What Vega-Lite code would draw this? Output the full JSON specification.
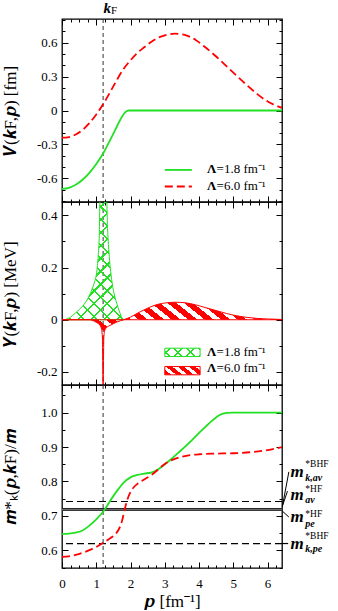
{
"$schema": "https://vega.github.io/schema/vega-lite/v6.json",
"background": "white",
"padding": {"left": 0, "top": 0, "right": 0, "bottom": 0},
"config": {
  "view": {"stroke": "black", "strokeWidth": 1.3},
  "axis": {"grid": false, "domain": false, "labelFlush": false, "tickColor": "black", "tickWidth": 1, "labelFont": "Liberation Serif", "labelFontSize": 13, "labelColor": "black", "titleFont": "Liberation Serif", "titleFontSize": 17, "titleColor": "black", "titleFontWeight": "normal"},
  "text": {"font": "Liberation Serif", "color": "black"}
},
"datasets": {
  "v18": [{"p":0,"v":-0.694},{"p":0.2,"v":-0.684},{"p":0.4,"v":-0.657},{"p":0.6,"v":-0.613},{"p":0.8,"v":-0.552},{"p":1.0,"v":-0.474},{"p":1.2,"v":-0.381},{"p":1.4,"v":-0.264},{"p":1.6,"v":-0.143},{"p":1.75,"v":-0.055},{"p":1.85,"v":-0.014},{"p":1.95,"v":0},{"p":2.1,"v":0},{"p":6.42,"v":0}],
  "v60": [{"p":0,"v":-0.241},{"p":0.2,"v":-0.235},{"p":0.4,"v":-0.213},{"p":0.6,"v":-0.172},{"p":0.8,"v":-0.112},{"p":1.0,"v":-0.035},{"p":1.2,"v":0.055},{"p":1.4,"v":0.16},{"p":1.6,"v":0.27},{"p":1.8,"v":0.37},{"p":2.0,"v":0.445},{"p":2.2,"v":0.51},{"p":2.4,"v":0.56},{"p":2.6,"v":0.607},{"p":2.8,"v":0.643},{"p":3.0,"v":0.665},{"p":3.3,"v":0.68},{"p":3.6,"v":0.667},{"p":3.9,"v":0.625},{"p":4.2,"v":0.555},{"p":4.5,"v":0.478},{"p":4.8,"v":0.392},{"p":5.1,"v":0.307},{"p":5.4,"v":0.223},{"p":5.7,"v":0.145},{"p":6.0,"v":0.08},{"p":6.42,"v":0.024}],
  "y18": [{"p":0.08,"v":0},{"p":0.2,"v":0.006},{"p":0.4,"v":0.027},{"p":0.6,"v":0.052},{"p":0.75,"v":0.08},{"p":0.87,"v":0.115},{"p":0.95,"v":0.145},{"p":1.01,"v":0.18},{"p":1.06,"v":0.25},{"p":1.09,"v":0.33},{"p":1.11,"v":0.47},{"p":1.2,"v":0.47},{"p":1.3,"v":0.47},{"p":1.33,"v":0.35},{"p":1.37,"v":0.26},{"p":1.45,"v":0.153},{"p":1.52,"v":0.1},{"p":1.6,"v":0.062},{"p":1.68,"v":0.03},{"p":1.75,"v":0.008},{"p":1.8,"v":0}],
  "y60": [{"p":0,"v":0},{"p":0.8,"v":0},{"p":0.9,"v":-0.003},{"p":1.0,"v":-0.01},{"p":1.1,"v":-0.02},{"p":1.15,"v":-0.035},{"p":1.18,"v":-0.07},{"p":1.2,"v":-0.27},{"p":1.22,"v":-0.07},{"p":1.25,"v":-0.04},{"p":1.3,"v":-0.03},{"p":1.4,"v":-0.022},{"p":1.5,"v":-0.015},{"p":1.6,"v":-0.009},{"p":1.7,"v":-0.004},{"p":1.8,"v":0},{"p":1.9,"v":0.005},{"p":2.0,"v":0.01},{"p":2.2,"v":0.025},{"p":2.4,"v":0.038},{"p":2.6,"v":0.05},{"p":2.8,"v":0.059},{"p":3.0,"v":0.064},{"p":3.3,"v":0.067},{"p":3.6,"v":0.065},{"p":3.9,"v":0.057},{"p":4.2,"v":0.046},{"p":4.5,"v":0.035},{"p":4.8,"v":0.024},{"p":5.1,"v":0.015},{"p":5.4,"v":0.009},{"p":5.7,"v":0.005},{"p":6.0,"v":0.003},{"p":6.42,"v":0.001}],
  "m18": [{"p":0,"v":0.648},{"p":0.2,"v":0.649},{"p":0.4,"v":0.652},{"p":0.6,"v":0.658},{"p":0.8,"v":0.672},{"p":1.0,"v":0.69},{"p":1.2,"v":0.712},{"p":1.4,"v":0.743},{"p":1.6,"v":0.772},{"p":1.8,"v":0.797},{"p":2.0,"v":0.812},{"p":2.2,"v":0.819},{"p":2.4,"v":0.823},{"p":2.6,"v":0.826},{"p":2.8,"v":0.835},{"p":3.0,"v":0.85},{"p":3.2,"v":0.866},{"p":3.4,"v":0.884},{"p":3.6,"v":0.902},{"p":3.8,"v":0.921},{"p":4.0,"v":0.941},{"p":4.2,"v":0.96},{"p":4.4,"v":0.978},{"p":4.6,"v":0.993},{"p":4.8,"v":0.999},{"p":5.0,"v":1.0},{"p":6.42,"v":1.0}],
  "m60": [{"p":0,"v":0.581},{"p":0.2,"v":0.583},{"p":0.4,"v":0.587},{"p":0.6,"v":0.593},{"p":0.8,"v":0.601},{"p":1.0,"v":0.61},{"p":1.2,"v":0.622},{"p":1.4,"v":0.635},{"p":1.55,"v":0.646},{"p":1.65,"v":0.66},{"p":1.75,"v":0.685},{"p":1.82,"v":0.715},{"p":1.9,"v":0.745},{"p":2.0,"v":0.77},{"p":2.1,"v":0.784},{"p":2.2,"v":0.793},{"p":2.4,"v":0.806},{"p":2.6,"v":0.818},{"p":2.8,"v":0.834},{"p":3.0,"v":0.851},{"p":3.2,"v":0.862},{"p":3.5,"v":0.872},{"p":4.0,"v":0.879},{"p":4.5,"v":0.881},{"p":5.0,"v":0.882},{"p":5.5,"v":0.885},{"p":6.0,"v":0.891},{"p":6.42,"v":0.9}]
},
"spacing": 0,
"bounds": "flush",
"vconcat": [
{
  "width": 220, "height": 183,
  "data": {"values": [{}]},
  "resolve": {"axis": {"x": "independent", "y": "independent"}},
  "layer": [
    {"mark": {"type": "rule", "color": "#333", "strokeDash": [4, 3], "strokeWidth": 1},
     "encoding": {"x": {"datum": 1.2, "axis": null, "scale": {"domain": [0, 6.42], "nice": false, "zero": false}}}},
    {"data": {"name": "v18"}, "mark": {"type": "line", "color": "#22e022", "strokeWidth": 1.8, "interpolate": "monotone", "clip": true},
     "encoding": {"x": {"field": "p", "type": "quantitative", "scale": {"domain": [0, 6.42], "nice": false, "zero": false}, "axis": {"orient": "bottom", "values": [0,1,2,3,4,5,6], "labels": false, "tickSize": -6, "title": null}},
                  "y": {"field": "v", "type": "quantitative", "scale": {"domain": [-0.81, 0.81], "nice": false, "zero": false}, "axis": {"orient": "left", "values": [-0.6,-0.3,0,0.3,0.6], "format": ".1~f", "labelExpr": "replace(datum.label,'−','-')", "ticks": false, "tickSize": 0, "labelPadding": 5, "title": "𝑽(𝒌F,𝒑) [fm]", "titleX": -43}}}},
    {"data": {"name": "v60"}, "mark": {"type": "line", "color": "red", "strokeWidth": 1.8, "strokeDash": [8, 4], "interpolate": "monotone", "clip": true},
     "encoding": {"x": {"field": "p", "type": "quantitative", "axis": {"orient": "bottom", "values": [0.25,0.5,0.75,1.25,1.5,1.75,2.25,2.5,2.75,3.25,3.5,3.75,4.25,4.5,4.75,5.25,5.5,5.75,6.25], "labels": false, "tickSize": -3, "title": null}},
                  "y": {"field": "v", "type": "quantitative", "axis": {"orient": "left", "values": [-0.6,-0.3,0,0.3,0.6], "labels": false, "tickSize": -6, "title": null}}}},
    {"data": {"name": "v18"}, "mark": {"type": "line", "strokeOpacity": 0},
     "encoding": {"x": {"field": "p", "type": "quantitative", "axis": {"orient": "top", "values": [0,1,2,3,4,5,6], "labels": false, "tickSize": -6, "title": null}},
                  "y": {"field": "v", "type": "quantitative", "axis": {"orient": "left", "values": [-0.8,-0.7,-0.5,-0.4,-0.2,-0.1,0.1,0.2,0.4,0.5,0.7,0.8], "labels": false, "tickSize": -3, "title": null}}}},
    {"data": {"name": "v18"}, "mark": {"type": "line", "strokeOpacity": 0},
     "encoding": {"x": {"field": "p", "type": "quantitative", "axis": {"orient": "top", "values": [0.25,0.5,0.75,1.25,1.5,1.75,2.25,2.5,2.75,3.25,3.5,3.75,4.25,4.5,4.75,5.25,5.5,5.75,6.25], "labels": false, "tickSize": -3, "title": null}},
                  "y": {"field": "v", "type": "quantitative", "axis": {"orient": "right", "values": [-0.6,-0.3,0,0.3,0.6], "labels": false, "tickSize": -6, "title": null}}}},
    {"data": {"name": "v18"}, "mark": {"type": "line", "strokeOpacity": 0},
     "encoding": {"x": {"field": "p", "type": "quantitative", "axis": null},
                  "y": {"field": "v", "type": "quantitative", "axis": {"orient": "right", "values": [-0.8,-0.7,-0.5,-0.4,-0.2,-0.1,0.1,0.2,0.4,0.5,0.7,0.8], "labels": false, "tickSize": -3, "title": null}}}},
    {"mark": {"type": "rule", "color": "#22e022", "strokeWidth": 1.8},
     "encoding": {"x": {"datum": 3.0, "axis": null}, "x2": {"datum": 3.79}, "y": {"datum": -0.526, "axis": null}}},
    {"mark": {"type": "rule", "color": "red", "strokeWidth": 1.8, "strokeDash": [8, 4]},
     "encoding": {"x": {"datum": 3.0, "axis": null}, "x2": {"datum": 3.79}, "y": {"datum": -0.673, "axis": null}}},
    {"mark": {"type": "text", "text": "Λ", "fontSize": 13, "fontWeight": "bold", "align": "left", "baseline": "alphabetic"},
     "encoding": {"x": {"datum": 4.23, "axis": null}, "y": {"datum": -0.556, "axis": null}}},
    {"mark": {"type": "text", "text": "=1.8 fm⁻¹", "fontSize": 13, "align": "left", "baseline": "alphabetic"},
     "encoding": {"x": {"datum": 4.51, "axis": null}, "y": {"datum": -0.556, "axis": null}}},
    {"mark": {"type": "text", "text": "Λ", "fontSize": 13, "fontWeight": "bold", "align": "left", "baseline": "alphabetic"},
     "encoding": {"x": {"datum": 4.23, "axis": null}, "y": {"datum": -0.703, "axis": null}}},
    {"mark": {"type": "text", "text": "=6.0 fm⁻¹", "fontSize": 13, "align": "left", "baseline": "alphabetic"},
     "encoding": {"x": {"datum": 4.51, "axis": null}, "y": {"datum": -0.703, "axis": null}}},
    {"mark": {"type": "text", "text": "k", "fontSize": 15, "fontWeight": "bold", "fontStyle": "italic", "align": "left", "baseline": "alphabetic"},
     "encoding": {"x": {"datum": 1.21, "axis": null}, "y": {"datum": 0.862, "axis": null}}},
    {"mark": {"type": "text", "text": "F", "fontSize": 11, "align": "left", "baseline": "alphabetic"},
     "encoding": {"x": {"datum": 1.43, "axis": null}, "y": {"datum": 0.852, "axis": null}}}
  ]
},
{
  "width": 220, "height": 183,
  "data": {"values": [{}]},
  "resolve": {"axis": {"x": "independent", "y": "independent"}},
  "layer": [
    {"mark": {"type": "rule", "color": "#333", "strokeDash": [4, 3], "strokeWidth": 1},
     "encoding": {"x": {"datum": 1.2, "axis": null, "scale": {"domain": [0, 6.42], "nice": false, "zero": false}}}},
    {"data": {"name": "y18"}, "mark": {"type": "area", "interpolate": "monotone", "clip": true, "stroke": "#22e022", "strokeWidth": 1,
       "fill": {"gradient": "linear", "x1": 0, "y1": 1, "x2": 0.575, "y2": -0.202, "stops": [
         {"offset": 0, "color": "rgba(0,0,0,0)"},
         {"offset": 0.03, "color": "rgba(0,0,0,0)"},{"offset": 0.03, "color": "#22e022"},{"offset": 0.042, "color": "#22e022"},{"offset": 0.042, "color": "rgba(0,0,0,0)"},
         {"offset": 0.1014, "color": "rgba(0,0,0,0)"},{"offset": 0.1014, "color": "#22e022"},{"offset": 0.1134, "color": "#22e022"},{"offset": 0.1134, "color": "rgba(0,0,0,0)"},
         {"offset": 0.1729, "color": "rgba(0,0,0,0)"},{"offset": 0.1729, "color": "#22e022"},{"offset": 0.1849, "color": "#22e022"},{"offset": 0.1849, "color": "rgba(0,0,0,0)"},
         {"offset": 0.2443, "color": "rgba(0,0,0,0)"},{"offset": 0.2443, "color": "#22e022"},{"offset": 0.2563, "color": "#22e022"},{"offset": 0.2563, "color": "rgba(0,0,0,0)"},
         {"offset": 0.3157, "color": "rgba(0,0,0,0)"},{"offset": 0.3157, "color": "#22e022"},{"offset": 0.3277, "color": "#22e022"},{"offset": 0.3277, "color": "rgba(0,0,0,0)"},
         {"offset": 0.3871, "color": "rgba(0,0,0,0)"},{"offset": 0.3871, "color": "#22e022"},{"offset": 0.3991, "color": "#22e022"},{"offset": 0.3991, "color": "rgba(0,0,0,0)"},
         {"offset": 0.4586, "color": "rgba(0,0,0,0)"},{"offset": 0.4586, "color": "#22e022"},{"offset": 0.4706, "color": "#22e022"},{"offset": 0.4706, "color": "rgba(0,0,0,0)"},
         {"offset": 0.53, "color": "rgba(0,0,0,0)"},{"offset": 0.53, "color": "#22e022"},{"offset": 0.542, "color": "#22e022"},{"offset": 0.542, "color": "rgba(0,0,0,0)"},
         {"offset": 0.6014, "color": "rgba(0,0,0,0)"},{"offset": 0.6014, "color": "#22e022"},{"offset": 0.6134, "color": "#22e022"},{"offset": 0.6134, "color": "rgba(0,0,0,0)"},
         {"offset": 0.6729, "color": "rgba(0,0,0,0)"},{"offset": 0.6729, "color": "#22e022"},{"offset": 0.6849, "color": "#22e022"},{"offset": 0.6849, "color": "rgba(0,0,0,0)"},
         {"offset": 0.7443, "color": "rgba(0,0,0,0)"},{"offset": 0.7443, "color": "#22e022"},{"offset": 0.7563, "color": "#22e022"},{"offset": 0.7563, "color": "rgba(0,0,0,0)"},
         {"offset": 0.8157, "color": "rgba(0,0,0,0)"},{"offset": 0.8157, "color": "#22e022"},{"offset": 0.8277, "color": "#22e022"},{"offset": 0.8277, "color": "rgba(0,0,0,0)"},
         {"offset": 0.8871, "color": "rgba(0,0,0,0)"},{"offset": 0.8871, "color": "#22e022"},{"offset": 0.8991, "color": "#22e022"},{"offset": 0.8991, "color": "rgba(0,0,0,0)"},
         {"offset": 0.9586, "color": "rgba(0,0,0,0)"},{"offset": 0.9586, "color": "#22e022"},{"offset": 0.9706, "color": "#22e022"},{"offset": 0.9706, "color": "rgba(0,0,0,0)"},
         {"offset": 1, "color": "rgba(0,0,0,0)"}]}},
     "encoding": {"x": {"field": "p", "type": "quantitative", "scale": {"domain": [0, 6.42], "nice": false, "zero": false}, "axis": {"orient": "bottom", "values": [0,1,2,3,4,5,6], "labels": false, "tickSize": -6, "title": null}},
                  "y": {"field": "v", "type": "quantitative", "scale": {"domain": [-0.25, 0.451], "nice": false, "zero": false}, "axis": {"orient": "left", "values": [-0.2,0,0.2,0.4], "format": ".1~f", "labelExpr": "replace(datum.label,'−','-')", "ticks": false, "tickSize": 0, "labelPadding": 5, "title": "𝒀(𝒌F,𝒑) [MeV]", "titleX": -43}},
                  "y2": {"datum": 0}}},
    {"data": {"name": "y18"}, "mark": {"type": "area", "interpolate": "monotone", "clip": true,
       "fill": {"gradient": "linear", "x1": 0, "y1": 0, "x2": 0.575, "y2": 1.202, "stops": [
         {"offset": 0, "color": "rgba(0,0,0,0)"},
         {"offset": 0.03, "color": "rgba(0,0,0,0)"},{"offset": 0.03, "color": "#22e022"},{"offset": 0.042, "color": "#22e022"},{"offset": 0.042, "color": "rgba(0,0,0,0)"},
         {"offset": 0.1014, "color": "rgba(0,0,0,0)"},{"offset": 0.1014, "color": "#22e022"},{"offset": 0.1134, "color": "#22e022"},{"offset": 0.1134, "color": "rgba(0,0,0,0)"},
         {"offset": 0.1729, "color": "rgba(0,0,0,0)"},{"offset": 0.1729, "color": "#22e022"},{"offset": 0.1849, "color": "#22e022"},{"offset": 0.1849, "color": "rgba(0,0,0,0)"},
         {"offset": 0.2443, "color": "rgba(0,0,0,0)"},{"offset": 0.2443, "color": "#22e022"},{"offset": 0.2563, "color": "#22e022"},{"offset": 0.2563, "color": "rgba(0,0,0,0)"},
         {"offset": 0.3157, "color": "rgba(0,0,0,0)"},{"offset": 0.3157, "color": "#22e022"},{"offset": 0.3277, "color": "#22e022"},{"offset": 0.3277, "color": "rgba(0,0,0,0)"},
         {"offset": 0.3871, "color": "rgba(0,0,0,0)"},{"offset": 0.3871, "color": "#22e022"},{"offset": 0.3991, "color": "#22e022"},{"offset": 0.3991, "color": "rgba(0,0,0,0)"},
         {"offset": 0.4586, "color": "rgba(0,0,0,0)"},{"offset": 0.4586, "color": "#22e022"},{"offset": 0.4706, "color": "#22e022"},{"offset": 0.4706, "color": "rgba(0,0,0,0)"},
         {"offset": 0.53, "color": "rgba(0,0,0,0)"},{"offset": 0.53, "color": "#22e022"},{"offset": 0.542, "color": "#22e022"},{"offset": 0.542, "color": "rgba(0,0,0,0)"},
         {"offset": 0.6014, "color": "rgba(0,0,0,0)"},{"offset": 0.6014, "color": "#22e022"},{"offset": 0.6134, "color": "#22e022"},{"offset": 0.6134, "color": "rgba(0,0,0,0)"},
         {"offset": 0.6729, "color": "rgba(0,0,0,0)"},{"offset": 0.6729, "color": "#22e022"},{"offset": 0.6849, "color": "#22e022"},{"offset": 0.6849, "color": "rgba(0,0,0,0)"},
         {"offset": 0.7443, "color": "rgba(0,0,0,0)"},{"offset": 0.7443, "color": "#22e022"},{"offset": 0.7563, "color": "#22e022"},{"offset": 0.7563, "color": "rgba(0,0,0,0)"},
         {"offset": 0.8157, "color": "rgba(0,0,0,0)"},{"offset": 0.8157, "color": "#22e022"},{"offset": 0.8277, "color": "#22e022"},{"offset": 0.8277, "color": "rgba(0,0,0,0)"},
         {"offset": 0.8871, "color": "rgba(0,0,0,0)"},{"offset": 0.8871, "color": "#22e022"},{"offset": 0.8991, "color": "#22e022"},{"offset": 0.8991, "color": "rgba(0,0,0,0)"},
         {"offset": 0.9586, "color": "rgba(0,0,0,0)"},{"offset": 0.9586, "color": "#22e022"},{"offset": 0.9706, "color": "#22e022"},{"offset": 0.9706, "color": "rgba(0,0,0,0)"},
         {"offset": 1, "color": "rgba(0,0,0,0)"}]}},
     "encoding": {"x": {"field": "p", "type": "quantitative", "axis": {"orient": "bottom", "values": [0.25,0.5,0.75,1.25,1.5,1.75,2.25,2.5,2.75,3.25,3.5,3.75,4.25,4.5,4.75,5.25,5.5,5.75,6.25], "labels": false, "tickSize": -3, "title": null}},
                  "y": {"field": "v", "type": "quantitative", "axis": {"orient": "left", "values": [-0.2,0,0.2,0.4], "labels": false, "tickSize": -6, "title": null}},
                  "y2": {"datum": 0}}},
    {"data": {"name": "y60"}, "mark": {"type": "area", "interpolate": "monotone", "clip": true, "stroke": "red", "strokeWidth": 1,
       "fill": {"gradient": "linear", "x1": 0, "y1": 1, "x2": 1.2, "y2": 0.4, "stops": [
         {"offset": 0, "color": "red"},{"offset": 0.0275, "color": "red"},{"offset": 0.0275, "color": "rgba(0,0,0,0)"},{"offset": 0.05, "color": "rgba(0,0,0,0)"},
         {"offset": 0.05, "color": "red"},{"offset": 0.0775, "color": "red"},{"offset": 0.0775, "color": "rgba(0,0,0,0)"},{"offset": 0.1, "color": "rgba(0,0,0,0)"},
         {"offset": 0.1, "color": "red"},{"offset": 0.1275, "color": "red"},{"offset": 0.1275, "color": "rgba(0,0,0,0)"},{"offset": 0.15, "color": "rgba(0,0,0,0)"},
         {"offset": 0.15, "color": "red"},{"offset": 0.1775, "color": "red"},{"offset": 0.1775, "color": "rgba(0,0,0,0)"},{"offset": 0.2, "color": "rgba(0,0,0,0)"},
         {"offset": 0.2, "color": "red"},{"offset": 0.2275, "color": "red"},{"offset": 0.2275, "color": "rgba(0,0,0,0)"},{"offset": 0.25, "color": "rgba(0,0,0,0)"},
         {"offset": 0.25, "color": "red"},{"offset": 0.2775, "color": "red"},{"offset": 0.2775, "color": "rgba(0,0,0,0)"},{"offset": 0.3, "color": "rgba(0,0,0,0)"},
         {"offset": 0.3, "color": "red"},{"offset": 0.3275, "color": "red"},{"offset": 0.3275, "color": "rgba(0,0,0,0)"},{"offset": 0.35, "color": "rgba(0,0,0,0)"},
         {"offset": 0.35, "color": "red"},{"offset": 0.3775, "color": "red"},{"offset": 0.3775, "color": "rgba(0,0,0,0)"},{"offset": 0.4, "color": "rgba(0,0,0,0)"},
         {"offset": 0.4, "color": "red"},{"offset": 0.4275, "color": "red"},{"offset": 0.4275, "color": "rgba(0,0,0,0)"},{"offset": 0.45, "color": "rgba(0,0,0,0)"},
         {"offset": 0.45, "color": "red"},{"offset": 0.4775, "color": "red"},{"offset": 0.4775, "color": "rgba(0,0,0,0)"},{"offset": 0.5, "color": "rgba(0,0,0,0)"},
         {"offset": 0.5, "color": "red"},{"offset": 0.5275, "color": "red"},{"offset": 0.5275, "color": "rgba(0,0,0,0)"},{"offset": 0.55, "color": "rgba(0,0,0,0)"},
         {"offset": 0.55, "color": "red"},{"offset": 0.5775, "color": "red"},{"offset": 0.5775, "color": "rgba(0,0,0,0)"},{"offset": 0.6, "color": "rgba(0,0,0,0)"},
         {"offset": 0.6, "color": "red"},{"offset": 0.6275, "color": "red"},{"offset": 0.6275, "color": "rgba(0,0,0,0)"},{"offset": 0.65, "color": "rgba(0,0,0,0)"},
         {"offset": 0.65, "color": "red"},{"offset": 0.6775, "color": "red"},{"offset": 0.6775, "color": "rgba(0,0,0,0)"},{"offset": 0.7, "color": "rgba(0,0,0,0)"},
         {"offset": 0.7, "color": "red"},{"offset": 0.7275, "color": "red"},{"offset": 0.7275, "color": "rgba(0,0,0,0)"},{"offset": 0.75, "color": "rgba(0,0,0,0)"},
         {"offset": 0.75, "color": "red"},{"offset": 0.7775, "color": "red"},{"offset": 0.7775, "color": "rgba(0,0,0,0)"},{"offset": 0.8, "color": "rgba(0,0,0,0)"},
         {"offset": 0.8, "color": "red"},{"offset": 0.8275, "color": "red"},{"offset": 0.8275, "color": "rgba(0,0,0,0)"},{"offset": 0.85, "color": "rgba(0,0,0,0)"},
         {"offset": 0.85, "color": "red"},{"offset": 0.8775, "color": "red"},{"offset": 0.8775, "color": "rgba(0,0,0,0)"},{"offset": 0.9, "color": "rgba(0,0,0,0)"},
         {"offset": 0.9, "color": "red"},{"offset": 0.9275, "color": "red"},{"offset": 0.9275, "color": "rgba(0,0,0,0)"},{"offset": 0.95, "color": "rgba(0,0,0,0)"},
         {"offset": 0.95, "color": "red"},{"offset": 0.9775, "color": "red"},{"offset": 0.9775, "color": "rgba(0,0,0,0)"},{"offset": 1, "color": "rgba(0,0,0,0)"}]}},
     "encoding": {"x": {"field": "p", "type": "quantitative", "axis": {"orient": "top", "values": [0,1,2,3,4,5,6], "labels": false, "tickSize": -6, "title": null}},
                  "y": {"field": "v", "type": "quantitative", "axis": {"orient": "left", "values": [-0.1,0.1,0.3], "labels": false, "tickSize": -3, "title": null}},
                  "y2": {"datum": 0}}},
    {"data": {"name": "y60"}, "mark": {"type": "line", "strokeOpacity": 0},
     "encoding": {"x": {"field": "p", "type": "quantitative", "axis": {"orient": "top", "values": [0.25,0.5,0.75,1.25,1.5,1.75,2.25,2.5,2.75,3.25,3.5,3.75,4.25,4.5,4.75,5.25,5.5,5.75,6.25], "labels": false, "tickSize": -3, "title": null}},
                  "y": {"field": "v", "type": "quantitative", "axis": {"orient": "right", "values": [-0.2,0,0.2,0.4], "labels": false, "tickSize": -6, "title": null}}}},
    {"data": {"name": "y60"}, "mark": {"type": "line", "strokeOpacity": 0},
     "encoding": {"x": {"field": "p", "type": "quantitative", "axis": null},
                  "y": {"field": "v", "type": "quantitative", "axis": {"orient": "right", "values": [-0.1,0.1,0.3], "labels": false, "tickSize": -3, "title": null}}}},
    {"mark": {"type": "rect", "stroke": "#22e022", "strokeWidth": 1,
       "fill": {"gradient": "linear", "x1": 0, "y1": 1, "x2": 1.171, "y2": 0.722, "stops": [
         {"offset": 0, "color": "rgba(0,0,0,0)"},
         {"offset": 0.1, "color": "rgba(0,0,0,0)"},{"offset": 0.1, "color": "#22e022"},{"offset": 0.145, "color": "#22e022"},{"offset": 0.145, "color": "rgba(0,0,0,0)"},
         {"offset": 0.38, "color": "rgba(0,0,0,0)"},{"offset": 0.38, "color": "#22e022"},{"offset": 0.425, "color": "#22e022"},{"offset": 0.425, "color": "rgba(0,0,0,0)"},
         {"offset": 0.66, "color": "rgba(0,0,0,0)"},{"offset": 0.66, "color": "#22e022"},{"offset": 0.705, "color": "#22e022"},{"offset": 0.705, "color": "rgba(0,0,0,0)"},
         {"offset": 0.94, "color": "rgba(0,0,0,0)"},{"offset": 0.94, "color": "#22e022"},{"offset": 0.985, "color": "#22e022"},{"offset": 0.985, "color": "rgba(0,0,0,0)"},
         {"offset": 1, "color": "rgba(0,0,0,0)"}]}},
     "encoding": {"x": {"datum": 3.0, "axis": null}, "x2": {"datum": 4.03}, "y": {"datum": -0.109, "axis": null}, "y2": {"datum": -0.141}}},
    {"mark": {"type": "rect",
       "fill": {"gradient": "linear", "x1": 0, "y1": 0, "x2": 1.171, "y2": 0.278, "stops": [
         {"offset": 0, "color": "rgba(0,0,0,0)"},
         {"offset": 0.1, "color": "rgba(0,0,0,0)"},{"offset": 0.1, "color": "#22e022"},{"offset": 0.145, "color": "#22e022"},{"offset": 0.145, "color": "rgba(0,0,0,0)"},
         {"offset": 0.38, "color": "rgba(0,0,0,0)"},{"offset": 0.38, "color": "#22e022"},{"offset": 0.425, "color": "#22e022"},{"offset": 0.425, "color": "rgba(0,0,0,0)"},
         {"offset": 0.66, "color": "rgba(0,0,0,0)"},{"offset": 0.66, "color": "#22e022"},{"offset": 0.705, "color": "#22e022"},{"offset": 0.705, "color": "rgba(0,0,0,0)"},
         {"offset": 0.94, "color": "rgba(0,0,0,0)"},{"offset": 0.94, "color": "#22e022"},{"offset": 0.985, "color": "#22e022"},{"offset": 0.985, "color": "rgba(0,0,0,0)"},
         {"offset": 1, "color": "rgba(0,0,0,0)"}]}},
     "encoding": {"x": {"datum": 3.0, "axis": null}, "x2": {"datum": 4.03}, "y": {"datum": -0.109, "axis": null}, "y2": {"datum": -0.141}}},
    {"mark": {"type": "rect", "stroke": "red", "strokeWidth": 1,
       "fill": {"gradient": "linear", "x1": 0, "y1": 1, "x2": 1.1916, "y2": 0.647, "stops": [
         {"offset": 0, "color": "red"},{"offset": 0.14, "color": "red"},{"offset": 0.14, "color": "rgba(0,0,0,0)"},{"offset": 0.25, "color": "rgba(0,0,0,0)"},
         {"offset": 0.25, "color": "red"},{"offset": 0.39, "color": "red"},{"offset": 0.39, "color": "rgba(0,0,0,0)"},{"offset": 0.5, "color": "rgba(0,0,0,0)"},
         {"offset": 0.5, "color": "red"},{"offset": 0.64, "color": "red"},{"offset": 0.64, "color": "rgba(0,0,0,0)"},{"offset": 0.75, "color": "rgba(0,0,0,0)"},
         {"offset": 0.75, "color": "red"},{"offset": 0.89, "color": "red"},{"offset": 0.89, "color": "rgba(0,0,0,0)"},{"offset": 1, "color": "rgba(0,0,0,0)"}]}},
     "encoding": {"x": {"datum": 3.0, "axis": null}, "x2": {"datum": 4.03}, "y": {"datum": -0.179, "axis": null}, "y2": {"datum": -0.211}}},
    {"mark": {"type": "text", "text": "Λ", "fontSize": 13, "fontWeight": "bold", "align": "left", "baseline": "alphabetic"},
     "encoding": {"x": {"datum": 4.23, "axis": null}, "y": {"datum": -0.138, "axis": null}}},
    {"mark": {"type": "text", "text": "=1.8 fm⁻¹", "fontSize": 13, "align": "left", "baseline": "alphabetic"},
     "encoding": {"x": {"datum": 4.51, "axis": null}, "y": {"datum": -0.138, "axis": null}}},
    {"mark": {"type": "text", "text": "Λ", "fontSize": 13, "fontWeight": "bold", "align": "left", "baseline": "alphabetic"},
     "encoding": {"x": {"datum": 4.23, "axis": null}, "y": {"datum": -0.202, "axis": null}}},
    {"mark": {"type": "text", "text": "=6.0 fm⁻¹", "fontSize": 13, "align": "left", "baseline": "alphabetic"},
     "encoding": {"x": {"datum": 4.51, "axis": null}, "y": {"datum": -0.202, "axis": null}}}
  ]
},
{
  "width": 220, "height": 183,
  "data": {"values": [{}]},
  "resolve": {"axis": {"x": "independent", "y": "independent"}},
  "layer": [
    {"mark": {"type": "rule", "color": "#333", "strokeDash": [4, 3], "strokeWidth": 1},
     "encoding": {"x": {"datum": 1.2, "axis": null, "scale": {"domain": [0, 6.42], "nice": false, "zero": false}}}},
    {"mark": {"type": "rule", "color": "black", "strokeDash": [7, 4], "strokeWidth": 1.2},
     "encoding": {"y": {"datum": 0.742, "axis": null, "scale": {"domain": [0.549, 1.08], "nice": false, "zero": false}}}},
    {"mark": {"type": "rule", "color": "black", "strokeDash": [7, 4], "strokeWidth": 1.2},
     "encoding": {"y": {"datum": 0.62, "axis": null}}},
    {"mark": {"type": "rule", "color": "#888", "strokeWidth": 3},
     "encoding": {"y": {"datum": 0.719, "axis": null}}},
    {"mark": {"type": "rule", "color": "#222", "strokeWidth": 1},
     "encoding": {"y": {"datum": 0.7215, "axis": null}}},
    {"mark": {"type": "rule", "color": "#222", "strokeWidth": 1},
     "encoding": {"y": {"datum": 0.7165, "axis": null}}},
    {"data": {"name": "m18"}, "mark": {"type": "line", "color": "#22e022", "strokeWidth": 1.8, "interpolate": "monotone", "clip": true},
     "encoding": {"x": {"field": "p", "type": "quantitative", "scale": {"domain": [0, 6.42], "nice": false, "zero": false}, "axis": {"orient": "bottom", "values": [0,1,2,3,4,5,6], "labels": false, "tickSize": -6, "title": null}},
                  "y": {"field": "v", "type": "quantitative", "scale": {"domain": [0.549, 1.08], "nice": false, "zero": false}, "axis": {"orient": "left", "values": [0.6,0.7,0.8,0.9,1.0], "format": ".1f", "ticks": false, "tickSize": 0, "labelPadding": 5, "title": "𝒎*ₖ(𝒑,𝒌F)/𝒎", "titleX": -43}}}},
    {"data": {"name": "m60"}, "mark": {"type": "line", "color": "red", "strokeWidth": 1.8, "strokeDash": [8, 4], "interpolate": "monotone", "clip": true},
     "encoding": {"x": {"field": "p", "type": "quantitative", "axis": {"orient": "bottom", "values": [0.25,0.5,0.75,1.25,1.5,1.75,2.25,2.5,2.75,3.25,3.5,3.75,4.25,4.5,4.75,5.25,5.5,5.75,6.25], "labels": false, "tickSize": -3, "title": null}},
                  "y": {"field": "v", "type": "quantitative", "axis": {"orient": "left", "values": [0.6,0.7,0.8,0.9,1.0], "labels": false, "tickSize": -6, "title": null}}}},
    {"data": {"name": "m18"}, "mark": {"type": "line", "strokeOpacity": 0},
     "encoding": {"x": {"field": "p", "type": "quantitative", "axis": {"orient": "top", "values": [0,1,2,3,4,5,6], "labels": false, "tickSize": -6, "title": null}},
                  "y": {"field": "v", "type": "quantitative", "axis": {"orient": "left", "values": [0.55,0.65,0.75,0.85,0.95,1.05], "labels": false, "tickSize": -3, "title": null}}}},
    {"data": {"name": "m18"}, "mark": {"type": "line", "strokeOpacity": 0},
     "encoding": {"x": {"field": "p", "type": "quantitative", "axis": {"orient": "top", "values": [0.25,0.5,0.75,1.25,1.5,1.75,2.25,2.5,2.75,3.25,3.5,3.75,4.25,4.5,4.75,5.25,5.5,5.75,6.25], "labels": false, "tickSize": -3, "title": null}},
                  "y": {"field": "v", "type": "quantitative", "axis": {"orient": "right", "values": [0.6,0.7,0.8,0.9,1.0], "labels": false, "tickSize": -6, "title": null}}}},
    {"data": {"name": "m18"}, "mark": {"type": "line", "strokeOpacity": 0},
     "encoding": {"x": {"field": "p", "type": "quantitative", "axis": {"orient": "bottom", "values": [0,1,2,3,4,5,6], "format": "d", "ticks": false, "tickSize": 0, "labelPadding": 9, "title": "𝒑 [fm⁻¹]", "titlePadding": 3}},
                  "y": {"field": "v", "type": "quantitative", "axis": {"orient": "right", "values": [0.55,0.65,0.75,0.85,0.95,1.05], "labels": false, "tickSize": -3, "title": null}}}},
    {"mark": {"type": "rule", "color": "black", "strokeWidth": 1},
     "encoding": {"x": {"datum": 6.43, "axis": null}, "x2": {"datum": 6.62}, "y": {"datum": 0.727, "axis": null}, "y2": {"datum": 0.828}}},
    {"mark": {"type": "rule", "color": "black", "strokeWidth": 1},
     "encoding": {"x": {"datum": 6.44, "axis": null}, "x2": {"datum": 6.58}, "y": {"datum": 0.731, "axis": null}, "y2": {"datum": 0.772}}},
    {"mark": {"type": "rule", "color": "black", "strokeWidth": 1},
     "encoding": {"x": {"datum": 6.43, "axis": null}, "x2": {"datum": 6.62}, "y": {"datum": 0.714, "axis": null}, "y2": {"datum": 0.697}}},
    {"mark": {"type": "rule", "color": "black", "strokeWidth": 1.2},
     "encoding": {"x": {"datum": 6.42, "axis": null}, "x2": {"datum": 6.6}, "y": {"datum": 0.62, "axis": null}}},
    {"mark": {"type": "text", "text": "m", "fontSize": 17, "fontWeight": "bold", "fontStyle": "italic", "align": "left", "baseline": "alphabetic"},
     "encoding": {"x": {"datum": 6.667, "axis": null}, "y": {"datum": 0.812, "axis": null}}},
    {"mark": {"type": "text", "text": "m", "fontSize": 17, "fontWeight": "bold", "fontStyle": "italic", "align": "left", "baseline": "alphabetic"},
     "encoding": {"x": {"datum": 6.667, "axis": null}, "y": {"datum": 0.745, "axis": null}}},
    {"mark": {"type": "text", "text": "m", "fontSize": 17, "fontWeight": "bold", "fontStyle": "italic", "align": "left", "baseline": "alphabetic"},
     "encoding": {"x": {"datum": 6.667, "axis": null}, "y": {"datum": 0.683, "axis": null}}},
    {"mark": {"type": "text", "text": "m", "fontSize": 17, "fontWeight": "bold", "fontStyle": "italic", "align": "left", "baseline": "alphabetic"},
     "encoding": {"x": {"datum": 6.667, "axis": null}, "y": {"datum": 0.603, "axis": null}}},
    {"mark": {"type": "text", "text": "*BHF", "fontSize": 9.5, "align": "left", "baseline": "alphabetic"},
     "encoding": {"x": {"datum": 7.1, "axis": null}, "y": {"datum": 0.843, "axis": null}}},
    {"mark": {"type": "text", "text": "*HF", "fontSize": 9.5, "align": "left", "baseline": "alphabetic"},
     "encoding": {"x": {"datum": 7.1, "axis": null}, "y": {"datum": 0.77, "axis": null}}},
    {"mark": {"type": "text", "text": "*HF", "fontSize": 9.5, "align": "left", "baseline": "alphabetic"},
     "encoding": {"x": {"datum": 7.1, "axis": null}, "y": {"datum": 0.697, "axis": null}}},
    {"mark": {"type": "text", "text": "*BHF", "fontSize": 9.5, "align": "left", "baseline": "alphabetic"},
     "encoding": {"x": {"datum": 7.1, "axis": null}, "y": {"datum": 0.632, "axis": null}}},
    {"mark": {"type": "text", "text": "k,av", "fontSize": 10, "fontWeight": "bold", "fontStyle": "italic", "align": "left", "baseline": "alphabetic"},
     "encoding": {"x": {"datum": 7.1, "axis": null}, "y": {"datum": 0.801, "axis": null}}},
    {"mark": {"type": "text", "text": "av", "fontSize": 10, "fontWeight": "bold", "fontStyle": "italic", "align": "left", "baseline": "alphabetic"},
     "encoding": {"x": {"datum": 7.1, "axis": null}, "y": {"datum": 0.737, "axis": null}}},
    {"mark": {"type": "text", "text": "pe", "fontSize": 10, "fontWeight": "bold", "fontStyle": "italic", "align": "left", "baseline": "alphabetic"},
     "encoding": {"x": {"datum": 7.1, "axis": null}, "y": {"datum": 0.667, "axis": null}}},
    {"mark": {"type": "text", "text": "k,pe", "fontSize": 10, "fontWeight": "bold", "fontStyle": "italic", "align": "left", "baseline": "alphabetic"},
     "encoding": {"x": {"datum": 7.1, "axis": null}, "y": {"datum": 0.596, "axis": null}}}
  ]
}
]
}
